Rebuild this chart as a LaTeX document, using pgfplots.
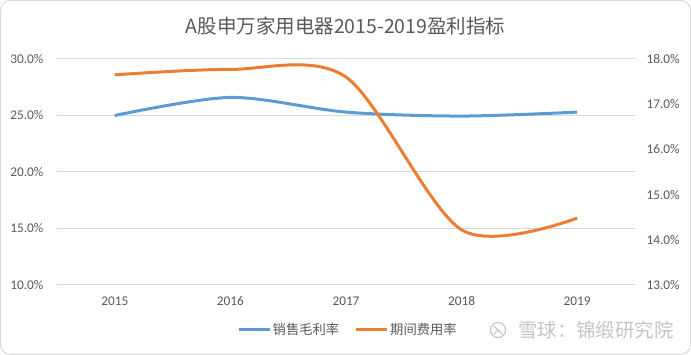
\documentclass[border=0pt]{standalone}
\usepackage{pgfplots}
\pgfplotsset{compat=1.18}
\usepackage{fontspec}
\setmainfont{Carlito}
\newfontfamily\cjk{Noto Sans CJK SC}
\definecolor{cblue}{HTML}{5B9BD5}
\definecolor{corange}{HTML}{ED7D31}
\definecolor{tgray}{HTML}{595959}
\definecolor{ggray}{HTML}{D9D9D9}
\definecolor{wm}{HTML}{C4C4C4}

\begin{document}
\begin{tikzpicture}
\draw[ggray, line width=1pt, rounded corners=10pt] (0.5pt,0.5pt) rectangle (690.5pt,354.5pt);
\node[font=\cjk\fontsize{19.5}{23}\selectfont, text=tgray] at (345.5pt,328.5pt) {A股申万家用电器2015-2019盈利指标};

\begin{axis}[
  name=main,
  at={(57pt,70pt)}, anchor=south west,
  width=578pt, height=226pt, scale only axis,
  xmin=-0.5, xmax=4.5, ymin=10, ymax=30,
  xtick={0,1,2,3,4}, xticklabels={2015,2016,2017,2018,2019},
  ytick={10,15,20,25,30},
  yticklabel={\pgfmathprintnumber[fixed,fixed zerofill,precision=1]{\tick}\%},
  axis line style={draw=none},
  major tick length=0pt,
  ymajorgrids, grid style={ggray, line width=1pt},
  tick label style={font=\fontsize{13.3}{15}\selectfont, text=tgray},
  /pgf/number format/assume math mode=true,
  yticklabel style={xshift=-10pt},
  xticklabel style={yshift=-8pt},
  clip=false,
  legend style={at={(0.503,-0.199)}, anchor=center, draw=none, fill=none,
    legend columns=2, font=\cjk\fontsize{13.3}{15}\selectfont, text=tgray,
    /tikz/every even column/.append style={column sep=14pt},
    nodes={inner sep=1.5pt}},
  legend image code/.code={\draw[#1] (0pt,0pt) -- (31pt,0pt);},
]
\addplot[cblue, line width=3pt, smooth] coordinates {(0,25.0) (1,26.6) (2,25.3) (3,24.95) (4,25.3)};
\addlegendentry{销售毛利率}
\addlegendimage{corange, line width=3pt}
\addlegendentry{期间费用率}
\end{axis}

\begin{axis}[
  at={(main.south west)}, anchor=south west,
  width=578pt, height=226pt, scale only axis,
  xmin=-0.5, xmax=4.5, ymin=13, ymax=18,
  xtick=\empty, yticklabel pos=right,
  ytick={13,14,15,16,17,18},
  yticklabel={\pgfmathprintnumber[fixed,fixed zerofill,precision=1]{\tick}\%},
  axis line style={draw=none},
  major tick length=0pt,
  tick label style={font=\fontsize{13.3}{15}\selectfont, text=tgray},
  /pgf/number format/assume math mode=true,
  yticklabel style={xshift=8pt},
  clip=false,
]
\addplot[corange, line width=3pt, smooth] coordinates {(0,17.65) (1,17.77) (2,17.6) (3,14.22) (4,14.48)};
\end{axis}

\draw[wm, line width=1.2pt] (498pt,25pt) circle (7.5pt);
\draw[wm, line width=1.2pt] (494pt,29pt) -- (502pt,21pt) (494pt,21pt) .. controls (497pt,24pt) .. (498pt,25pt);
\node[anchor=west, inner sep=0pt, font=\cjk\fontsize{19.4}{22}\selectfont, text=wm] at (518pt,25pt) {雪球：锦缎研究院};
\end{tikzpicture}
\end{document}
